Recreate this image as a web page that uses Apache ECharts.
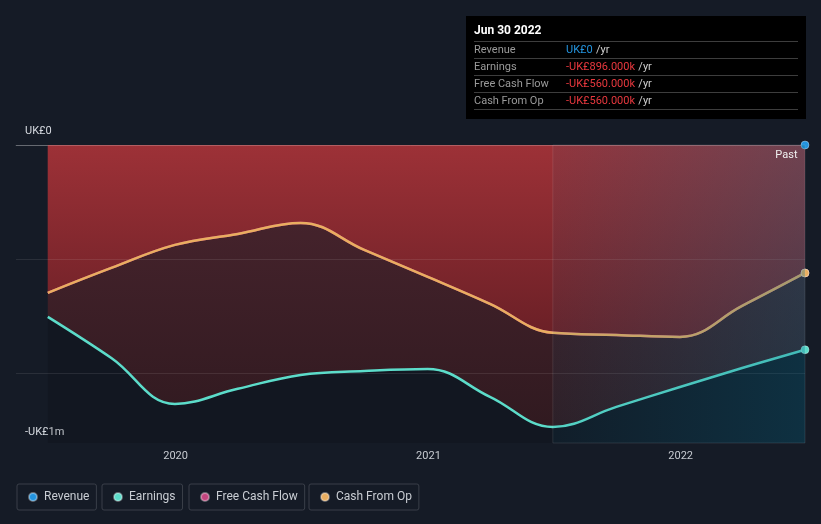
<!DOCTYPE html>
<html><head><meta charset="utf-8">
<script src="https://cdn.jsdelivr.net/npm/echarts@6/dist/echarts.min.js"></script>
<style>html,body{margin:0;padding:0;background:#151b26;}#c{width:821px;height:524px;}</style>
</head><body><div id="c"></div>
<script>
// ---------- data ----------
const dates = ['2019-06-30','2019-09-30','2019-12-31','2020-03-31','2020-06-30','2020-09-30','2020-12-31','2021-03-31','2021-06-30','2021-09-30','2021-12-31','2022-03-31','2022-06-30'];
const revenue = [0,0,0,0,0,0,0,0,0,0,0,0,0];
const earnings = [-752000,-932000,-1133000,-1067000,-1006000,-989000,-980000,-1102000,-1234000,-1146000,-1059000,-976000,-896000];
const freeCashFlow = [-647000,-538000,-437000,-389000,-341000,-459000,-577000,-695000,-822000,-831000,-840000,-704000,-560000];
const cashFromOp = [-647000,-538000,-437000,-389000,-341000,-459000,-577000,-695000,-822000,-831000,-840000,-704000,-560000];
const gridValues = [0,-500000,-1000000];
const yLabelTop = 'UK£0';
const yLabelBottom = '-UK£1m';
const pastRange = ['2021-06-30','2022-06-30'];
const pastLabel = 'Past';
const tipTitle = 'Jun 30 2022';
const tipLabels = ['Revenue','Earnings','Free Cash Flow','Cash From Op'];
const tipValues = ['UK£0','-UK£896.000k','-UK£560.000k','-UK£560.000k'];
const legendNames = ['Revenue','Earnings','Free Cash Flow','Cash From Op'];

// ---------- styling ----------
const FONT = 'Roboto, "Noto Sans", sans-serif';
const C = {rev:'#2394df', earn:'#5cdcca', fcf:'#c2457e', cfo:'#e9ae60'};
const tipValueColors = [C.rev,'#e8383e','#e8383e','#e8383e'];
const pair = arr => dates.map((d,i)=>[d,arr[i]]);
const lastOnly = (v,p)=> p.dataIndex === dates.length-1 ? 8 : 0;
const yMin = -1304000;

const chart = echarts.init(document.getElementById('c'), null, {renderer:'canvas'});

function lineSeries(name, arr, color, z, lineOpacity){
  return {
    name, type:'line', data: pair(arr), smooth:0.4, z,
    showSymbol:true, showAllSymbol:true, symbol:'circle', symbolSize:lastOnly,
    lineStyle:{color, width:2.5, opacity:lineOpacity}, itemStyle:{color, borderColor:'rgba(255,255,255,0.35)', borderWidth:1},
    emphasis:{disabled:true}, silent:true
  };
}

const legends = legendNames.map((n,i)=>({
  data:[n], left:[17,102,189,309][i], top:484, orient:'horizontal',
  icon:'circle', itemWidth:8, itemHeight:8, selectedMode:false,
  padding:[7,7,7,11], borderColor:'#3a3f49', borderWidth:1, borderRadius:2,
  textStyle:{color:'#c9cdd3', fontSize:12, fontFamily:FONT, padding:[0,0,0,2]}
}));

const graphics = [
  {type:'rect', shape:{x:466,y:16,width:340,height:103}, style:{fill:'#000'}, z:100},
  {type:'text', x:474, y:31, style:{text:tipTitle, fill:'#fff', font:'bold 12px '+FONT, verticalAlign:'middle'}, z:101}
];
[41.5,58.5,75.5,92.5,109.5].forEach(y=>graphics.push({type:'line', shape:{x1:474,y1:y,x2:798,y2:y}, style:{stroke:'#3d3d3d', lineWidth:1}, z:101}));
tipLabels.forEach((t,i)=>{
  const y = 50 + i*17;
  graphics.push({type:'text', x:474, y, style:{text:t, fill:'#9a9a9a', font:'11px '+FONT, verticalAlign:'middle'}, z:101});
  graphics.push({type:'text', x:566, y, style:{
    text:'{v|'+tipValues[i]+'} {u|/yr}', verticalAlign:'middle',
    rich:{v:{fill:tipValueColors[i], font:'11px '+FONT}, u:{fill:'#d0d0d0', font:'11px '+FONT}}
  }, z:101});
});

const option = {
  backgroundColor:'#151b26',
  animation:false,
  textStyle:{fontFamily:FONT},
  grid:{left:16, right:16, top:145, bottom:81},
  legend: legends,
  xAxis:{
    type:'time', min:new Date(2019,4,15).getTime(), max:new Date(2022,5,30).getTime(),
    minInterval:365*864e5,
    axisLine:{lineStyle:{color:'#3b404a'}},
    axisTick:{show:true, length:4, lineStyle:{color:'#555a64'}},
    axisLabel:{color:'#c8ccd2', fontSize:11, margin:8, fontFamily:FONT,
      formatter:v=>{const d=new Date(v); return (d.getMonth()===0&&d.getDate()===1)?String(d.getFullYear()):'';}},
    splitLine:{show:false}
  },
  yAxis:{
    type:'value', min:yMin, max:0, interval:-yMin,
    axisLine:{show:false}, axisTick:{show:false}, splitLine:{show:false},
    axisLabel:{inside:true, margin:9, color:'#d6dae0', fontSize:11, fontFamily:FONT,
      formatter:v=> v===0 ? '{a|'+yLabelTop+'}' : '{b|'+yLabelBottom+'}',
      rich:{a:{padding:[0,0,28,0], fontSize:11, color:'#d6dae0'}, b:{padding:[0,0,22,0], fontSize:11, color:'#d6dae0'}}
    }
  },
  graphic: graphics,
  series:[
    {name:'_earnLow', type:'line', data:pair(earnings), smooth:0.4, showSymbol:false, z:1, silent:true,
      lineStyle:{width:0}, areaStyle:{origin:'start', color:'rgba(0,0,0,0.16)'}},
    {name:'_earnFill', type:'line', data:pair(earnings), smooth:0.4, showSymbol:false, z:1, silent:true,
      lineStyle:{width:0}, areaStyle:{origin:'end', opacity:1, color:{type:'linear', x:0,y:145,x2:0,y2:443, global:true,
        colorStops:[{offset:0,color:'#4c2630'},{offset:1,color:'#2f191f'}]}}},
    {name:'_cfoFill', type:'line', data:pair(cashFromOp), smooth:0.4, showSymbol:false, z:2, silent:true,
      lineStyle:{width:0}, areaStyle:{origin:'end', opacity:1, color:{type:'linear', x:0,y:145,x2:0,y2:443, global:true,
        colorStops:[{offset:0,color:'#9d3137'},{offset:1,color:'#4f161d'}]}}},
    {name:'_grid', type:'line', data:[], z:3, silent:true,
      markLine:{silent:true, symbol:'none', label:{show:false}, z:3,
        data: gridValues.map(v=>({yAxis:v, lineStyle:{color: v===0?'rgba(255,255,255,0.22)':'rgba(255,255,255,0.09)', width:1, type:'solid'}}))}},
    lineSeries('Revenue', revenue, C.rev, 4, 0),
    lineSeries('Earnings', earnings, C.earn, 4, 1),
    lineSeries('Free Cash Flow', freeCashFlow, C.fcf, 4, 1),
    lineSeries('Cash From Op', cashFromOp, C.cfo, 4, 1),
    {name:'_past', type:'line', data:[], z:6, silent:true,
      markArea:{silent:true, z:10,
        itemStyle:{color:{type:'linear', x:0,y:0,x2:1,y2:0, colorStops:[{offset:0,color:'rgba(5,108,141,0.08)'},{offset:1,color:'rgba(5,108,141,0.3)'}]},
          borderColor:'rgba(255,255,255,0.1)', borderWidth:1},
        label:{show:true, position:'insideTopRight', distance:5, padding:[0,3,0,0], color:'#f0f0f0', fontSize:11, fontFamily:FONT},
        data:[[{name:pastLabel, xAxis:new Date(pastRange[0]+'T00:00:00').getTime()},{xAxis:new Date(pastRange[1]+'T00:00:00').getTime()}]]
      }}
  ]
};
chart.setOption(option);
</script>
</body></html>
